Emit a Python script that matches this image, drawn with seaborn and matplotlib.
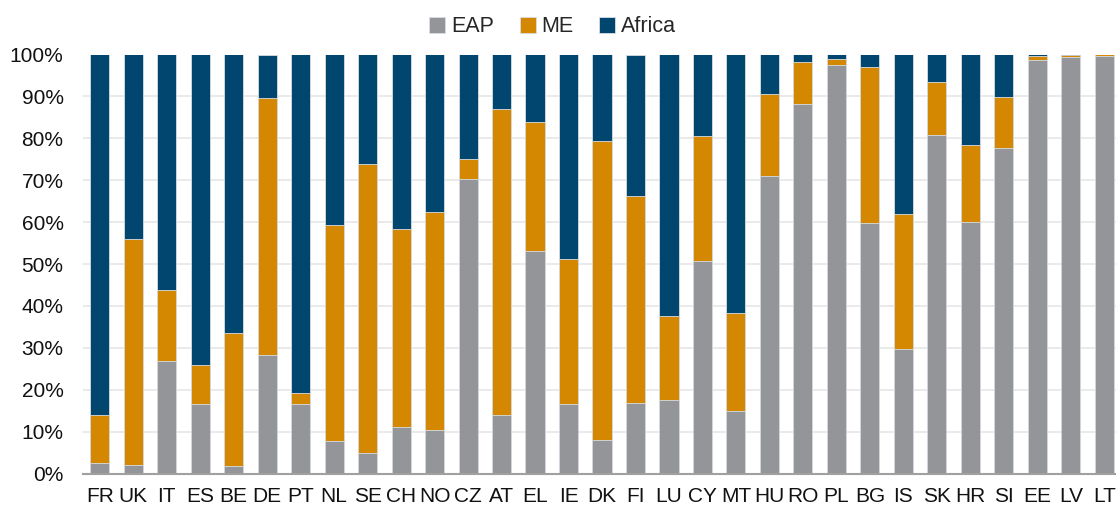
import pandas as pd
import seaborn as sns
import matplotlib.pyplot as plt
from matplotlib.ticker import PercentFormatter

countries = ['FR', 'UK', 'IT', 'ES', 'BE', 'DE', 'PT', 'NL', 'SE', 'CH', 'NO', 'CZ', 'AT', 'EL', 'IE', 'DK',
             'FI', 'LU', 'CY', 'MT', 'HU', 'RO', 'PL', 'BG', 'IS', 'SK', 'HR', 'SI', 'EE', 'LV', 'LT']
eap = [2.6, 2.0, 26.8, 16.7, 1.7, 28.4, 16.5, 7.7, 5.0, 11.0, 10.3, 70.4, 14.0, 53.1, 16.5, 8.1,
       16.9, 17.5, 50.6, 14.8, 71.1, 88.3, 97.4, 59.7, 29.7, 80.7, 60.0, 77.8, 98.8, 99.4, 99.6]
me = [11.3, 54.0, 16.9, 9.2, 31.9, 61.3, 2.8, 51.6, 68.8, 47.3, 52.2, 4.7, 73.0, 30.9, 34.7, 71.2,
      49.3, 20.2, 30.0, 23.6, 19.4, 9.8, 1.5, 37.4, 32.2, 12.7, 18.3, 12.0, 0.8, 0.4, 0.4]
africa = [86.1, 44.0, 56.3, 74.1, 66.4, 10.3, 80.7, 40.7, 26.2, 41.7, 37.5, 24.9, 13.0, 16.0, 48.8, 20.7,
          33.8, 62.3, 19.4, 61.6, 9.5, 1.9, 1.1, 2.9, 38.1, 6.6, 21.7, 10.2, 0.4, 0.2, 0.0]

colors = {'EAP': '#939598', 'ME': '#D48700', 'Africa': '#00466F'}

df = pd.DataFrame({'country': countries, 'EAP': eap, 'ME': me, 'Africa': africa})
# cumulative heights so the bars can be layered into a stack
df['top_me'] = df['EAP'] + df['ME']
df['top_africa'] = df['top_me'] + df['Africa']

sns.set_style('white')
plt.rcParams['font.family'] = ['Liberation Sans', 'DejaVu Sans']

fig = plt.figure(figsize=(11.16, 5.07), dpi=100)
ax = fig.add_axes([83 / 1116, 33.5 / 507, 1038 / 1116, 419 / 507])

layers = [('top_africa', 'Africa'), ('top_me', 'ME'), ('EAP', 'EAP')]
for col, name in layers:
    sns.barplot(data=df, x='country', y=col, color=colors[name], width=0.57, ax=ax,
                edgecolor='#d9dde3', linewidth=0.6, saturation=1, label=name, zorder=2)

ax.set_ylim(0, 100)
ax.set_xlim(-0.5, len(countries) - 0.5)
ax.set_yticks(range(0, 101, 10))
ax.yaxis.set_major_formatter(PercentFormatter(decimals=0))
ax.grid(axis='y', color='#e6e6e6', linewidth=1.2, zorder=0)
ax.set_axisbelow(True)
ax.set_xlabel('')
ax.set_ylabel('')
for s in ['top', 'right', 'left']:
    ax.spines[s].set_visible(False)
ax.spines['bottom'].set_color('#a0a0a0')
ax.spines['bottom'].set_linewidth(1.5)
ax.tick_params(axis='both', labelsize=15, length=0, colors='#111111')
ax.tick_params(axis='y', pad=14)
ax.tick_params(axis='x', pad=10)

handles, labels = ax.get_legend_handles_labels()
if ax.get_legend() is not None:
    ax.get_legend().remove()
order = ['EAP', 'ME', 'Africa']
h = [handles[labels.index(n)] for n in order]
fig.legend(h, order, loc='center', bbox_to_anchor=(0.495, 0.947), ncol=3, frameon=False, fontsize=15.5,
           handlelength=0.75, handleheight=0.75, handletextpad=0.25, columnspacing=1.2)

fig.savefig('out.png', dpi=100)
